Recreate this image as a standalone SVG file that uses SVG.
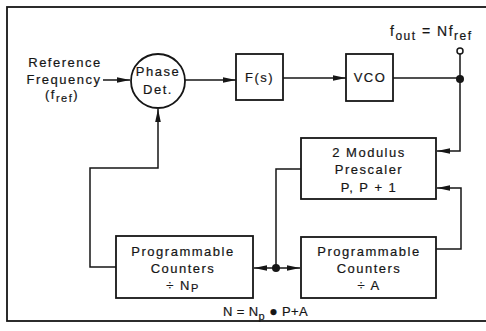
<svg xmlns="http://www.w3.org/2000/svg" width="486" height="331" viewBox="0 0 486 331">
<style>
text{font-family:"Liberation Sans",Arial,sans-serif;font-size:13px;fill:#161616;stroke:#161616;stroke-width:0.2;letter-spacing:1.5px}
.box{fill:none;stroke:#161616;stroke-width:1.8}
.ln{fill:none;stroke:#161616;stroke-width:1.5}
.c{text-anchor:middle}
.sub{font-size:11px}
</style>
<defs>
<marker id="ah" markerWidth="14" markerHeight="8" refX="13" refY="4" orient="auto" markerUnits="userSpaceOnUse">
<path d="M0,1.2 L13,4 L0,6.8 Z" fill="#161616"/>
</marker>
</defs>
<rect x="0" y="0" width="486" height="331" fill="#fff"/>
<rect x="7" y="7" width="500" height="314" class="box" stroke-width="2"/>

<g id="reference">
<text x="65" y="67" class="c">Reference</text>
<text x="64" y="84" class="c">Frequency</text>
<text x="62" y="99" class="c">(f<tspan class="sub" dy="3">ref</tspan><tspan dy="-3">)</tspan></text>
</g>

<g id="phase-det">
<circle cx="158" cy="81" r="27" class="box"/>
<text x="158" y="76" class="c">Phase</text>
<text x="158" y="94" class="c">Det.</text>
</g>

<g id="filter">
<rect x="236" y="54" width="47" height="46" class="box"/>
<text x="259.5" y="82" class="c">F(s)</text>
</g>

<g id="vco">
<rect x="346" y="54" width="47" height="47" class="box"/>
<text x="370" y="82" class="c">VCO</text>
</g>

<g id="output">
<text x="390" y="36" style="font-size:14px">f<tspan style="font-size:12px" dy="4">out</tspan><tspan dy="-4"> = Nf</tspan><tspan style="font-size:12px" dy="4">ref</tspan></text>
<circle cx="460" cy="51" r="3" fill="#fff" stroke="#161616" stroke-width="1.5"/>
</g>

<g id="prescaler">
<rect x="301" y="138" width="135" height="61" class="box"/>
<text x="369" y="157" class="c">2 Modulus</text>
<text x="369" y="174" class="c">Prescaler</text>
<text x="369" y="192" class="c">P, P + 1</text>
</g>

<g id="counter-a">
<rect x="301" y="237" width="135" height="61" class="box"/>
<text x="369" y="256" class="c">Programmable</text>
<text x="369" y="273" class="c">Counters</text>
<text x="369" y="290" class="c">÷ A</text>
</g>

<g id="counter-np">
<rect x="116" y="236" width="137" height="62" class="box"/>
<text x="183" y="256" class="c">Programmable</text>
<text x="183" y="273" class="c">Counters</text>
<text x="183" y="290" class="c">÷ N<tspan class="sub" dy="2">P</tspan></text>
</g>

<g id="formula">
<text x="223" y="316" style="letter-spacing:0.4px">N = N<tspan class="sub" dy="4">p</tspan><tspan dy="-4"> </tspan><tspan style="font-size:14px">●</tspan><tspan> P+A</tspan></text>
</g>

<g id="connectors">
<line x1="103" y1="80" x2="130" y2="80" class="ln" marker-end="url(#ah)"/>
<line x1="185" y1="80" x2="236" y2="80" class="ln" marker-end="url(#ah)"/>
<line x1="283" y1="78" x2="346" y2="78" class="ln" marker-end="url(#ah)"/>
<line x1="393" y1="78" x2="460" y2="78" class="ln"/>
<polyline points="460,54 460,151 437,151" class="ln" marker-end="url(#ah)"/>
<circle cx="460" cy="79" r="4" fill="#161616"/>
<polyline points="436,249 461,249 461,188 437,188" class="ln" marker-end="url(#ah)"/>
<polyline points="301,169 276,169 276,268" class="ln"/>
<circle cx="276" cy="268" r="4" fill="#161616"/>
<line x1="276" y1="268" x2="254" y2="268" class="ln" marker-end="url(#ah)"/>
<line x1="276" y1="268" x2="300" y2="268" class="ln" marker-end="url(#ah)"/>
<polyline points="116,267 90,267 90,168 158,168 158,109" class="ln" marker-end="url(#ah)"/>
</g>
</svg>
